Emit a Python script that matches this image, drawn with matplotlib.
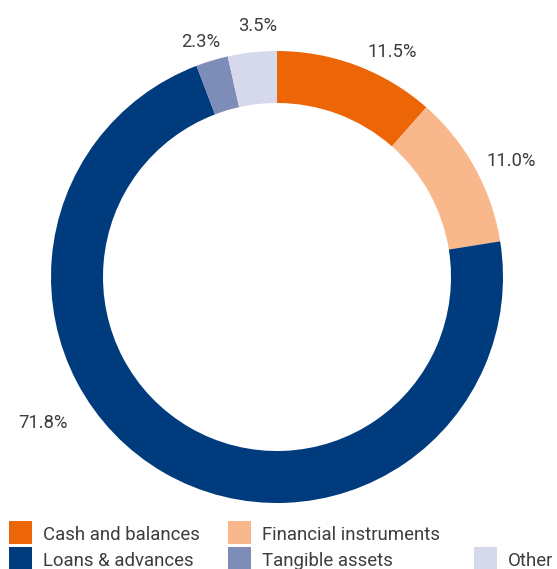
import matplotlib
matplotlib.use("Agg")
import matplotlib.pyplot as plt
from matplotlib.patches import Rectangle
import numpy as np

categories = ["Cash and balances", "Financial instruments", "Loans & advances",
              "Tangible assets", "Other"]
shares = [11.5, 11.0, 71.8, 2.3, 3.5]
labels = ["11.5%", "11.0%", "71.8%", "2.3%", "3.5%"]
colors = ["#EC6608", "#F8B88B", "#003C7D", "#7D8DB8", "#D6D9EB"]

# label placement: angular shift (deg) from wedge middle and radial distance (px)
label_shift = [-6.2, -2.1, -28.4, 1.2, -1.8]
label_dist = [254.5, 262.7, 274.8, 249, 253.3]

W, H = 557, 569
fig = plt.figure(figsize=(W / 100, H / 100), dpi=100)
ax = fig.add_axes([0, 0, 1, 1])
ax.set_xlim(0, W)
ax.set_ylim(0, H)
ax.set_aspect("equal")
ax.axis("off")

cx, cy = 277, H - 277
R = 226
ring = 52

wedges, _ = ax.pie(shares, colors=colors, startangle=90, counterclock=False,
                   radius=R, center=(cx, cy),
                   wedgeprops=dict(width=ring, edgecolor="none"))
ax.set_xlim(0, W)
ax.set_ylim(0, H)

txt_color = "#3d3d3d"
font = "Roboto"
for w, lab, sh, d in zip(wedges, labels, label_shift, label_dist):
    mid = np.deg2rad((w.theta1 + w.theta2) / 2 + sh)
    ax.text(cx + d * np.cos(mid), cy + d * np.sin(mid), lab,
            ha="center", va="center_baseline", fontsize=13.2, color=txt_color,
            family=font)

# legend: two rows, three columns, "Other" on the second row
legend_slots = [(9, 532), (228, 532), (9, 558), (228, 558), (474, 558)]
sq = 23
for (x, yc), name, col in zip(legend_slots, categories, colors):
    y = H - yc
    ax.add_patch(Rectangle((x, y - sq / 2), sq, sq, facecolor=col,
                           edgecolor="none", clip_on=False))
    ax.text(x + 34, y - 1.5, name, ha="left", va="center_baseline",
            fontsize=13.4, color=txt_color, family=font)

fig.savefig("out.png", dpi=100)
